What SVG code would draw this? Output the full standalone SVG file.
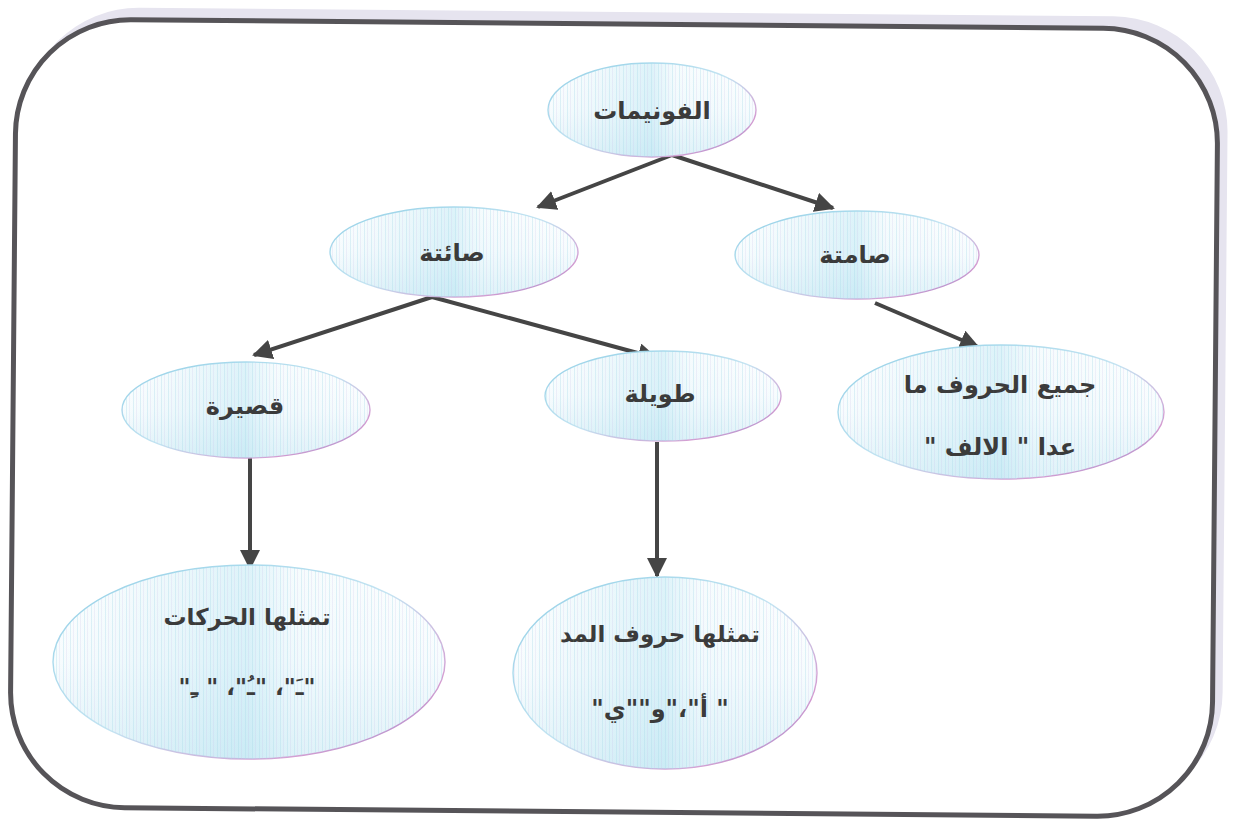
<svg xmlns="http://www.w3.org/2000/svg" width="1239" height="826" viewBox="0 0 1239 826">
<defs>
<linearGradient id="fillV" x1="0" y1="0" x2="0" y2="1">
<stop offset="0" stop-color="#ffffff"/>
<stop offset="0.5" stop-color="#f7fcfe"/>
<stop offset="1" stop-color="#e2f3f9"/>
</linearGradient>
<linearGradient id="fillH" x1="0" y1="0" x2="1" y2="0">
<stop offset="0" stop-color="#bfe6f2" stop-opacity="0"/>
<stop offset="0.5" stop-color="#9fdcee" stop-opacity="0.35"/>
<stop offset="0.62" stop-color="#c7ebf5" stop-opacity="0.15"/>
<stop offset="1" stop-color="#bfe6f2" stop-opacity="0"/>
</linearGradient>
<pattern id="stripes" width="7" height="10" patternUnits="userSpaceOnUse">
<rect x="0" y="0" width="1" height="10" fill="#a9d8e8" opacity="0.35"/>
<rect x="3" y="0" width="1" height="10" fill="#c8c0e6" opacity="0.22"/>
</pattern>
<linearGradient id="strokeG" x1="0" y1="0" x2="1" y2="1">
<stop offset="0" stop-color="#8fcfe6"/>
<stop offset="0.5" stop-color="#c4e4f2"/>
<stop offset="0.8" stop-color="#d59ad0"/>
<stop offset="1" stop-color="#8a86c8"/>
</linearGradient>
<marker id="ah" viewBox="0 0 10 10" refX="9" refY="5" markerWidth="5" markerHeight="5" orient="auto" markerUnits="strokeWidth">
<path d="M0,0 L10,5 L0,10 z" fill="#454545"/>
</marker>
</defs>
<style>
.node ellipse.b{fill:url(#fillV);stroke:url(#strokeG);stroke-width:1.4}
.node ellipse.h{fill:url(#fillH);stroke:none}
.node ellipse.s{fill:url(#stripes);stroke:none}
.t{font-family:"DejaVu Sans","Noto Sans",sans-serif;font-weight:bold;fill:#3b3b3b;text-anchor:middle;direction:rtl}
.c line{stroke:#454545;stroke-width:4;marker-end:url(#ah)}
</style>
<rect width="1239" height="826" fill="#ffffff"/>
<g transform="rotate(0.5 614 418)">
<rect x="21" y="12" width="1204" height="790" rx="115" fill="#e6e4ef"/>
<rect x="13" y="24" width="1202" height="788" rx="115" fill="#ffffff" stroke="#565458" stroke-width="5"/>
</g>

<g class="c">
<line x1="672" y1="155" x2="538" y2="207"/>
<line x1="672" y1="155" x2="833" y2="208"/>
<line x1="432" y1="297" x2="254" y2="355"/>
<line x1="432" y1="297" x2="656" y2="358"/>
<line x1="875" y1="303" x2="978" y2="347"/>
<line x1="250" y1="457" x2="250" y2="568"/>
<line x1="657" y1="442" x2="657" y2="576"/>
</g>

<g id="n-phonemes" class="node">
<ellipse class="b" cx="652" cy="110" rx="104" ry="47"/>
<ellipse class="h" cx="652" cy="110" rx="104" ry="47"/>
<ellipse class="s" cx="652" cy="110" rx="104" ry="47"/>
<text class="t" x="652" y="119" font-size="24">الفونيمات</text>
</g>

<g id="n-vowel" class="node">
<ellipse class="b" cx="454" cy="252" rx="124" ry="45"/>
<ellipse class="h" cx="454" cy="252" rx="124" ry="45"/>
<ellipse class="s" cx="454" cy="252" rx="124" ry="45"/>
<text class="t" x="452" y="261" font-size="24">صائتة</text>
</g>

<g id="n-consonant" class="node">
<ellipse class="b" cx="857" cy="255" rx="122" ry="44"/>
<ellipse class="h" cx="857" cy="255" rx="122" ry="44"/>
<ellipse class="s" cx="857" cy="255" rx="122" ry="44"/>
<text class="t" x="855" y="263" font-size="24">صامتة</text>
</g>

<g id="n-short" class="node">
<ellipse class="b" cx="246" cy="410" rx="124" ry="48"/>
<ellipse class="h" cx="246" cy="410" rx="124" ry="48"/>
<ellipse class="s" cx="246" cy="410" rx="124" ry="48"/>
<text class="t" x="245" y="414" font-size="24">قصيرة</text>
</g>

<g id="n-long" class="node">
<ellipse class="b" cx="663" cy="396" rx="118" ry="45"/>
<ellipse class="h" cx="663" cy="396" rx="118" ry="45"/>
<ellipse class="s" cx="663" cy="396" rx="118" ry="45"/>
<text class="t" x="660" y="402" font-size="24">طويلة</text>
</g>

<g id="n-all" class="node">
<ellipse class="b" cx="1001" cy="412" rx="163" ry="67"/>
<ellipse class="h" cx="1001" cy="412" rx="163" ry="67"/>
<ellipse class="s" cx="1001" cy="412" rx="163" ry="67"/>
<text class="t" x="1000" y="393" font-size="24">جميع الحروف ما</text>
<text class="t" x="1000" y="455" font-size="24">عدا " الالف "</text>
</g>

<g id="n-harakat" class="node">
<ellipse class="b" cx="249" cy="662" rx="196" ry="97"/>
<ellipse class="h" cx="249" cy="662" rx="196" ry="97"/>
<ellipse class="s" cx="249" cy="662" rx="196" ry="97"/>
<text class="t" x="247" y="625" font-size="23">تمثلها الحركات</text>
<text class="t" x="247" y="695" font-size="23">"ـَ"، "ـُ"، " ـِ"</text>
</g>

<g id="n-madd" class="node">
<ellipse class="b" cx="665" cy="673" rx="152" ry="96"/>
<ellipse class="h" cx="665" cy="673" rx="152" ry="96"/>
<ellipse class="s" cx="665" cy="673" rx="152" ry="96"/>
<text class="t" x="660" y="642" font-size="23">تمثلها حروف المد</text>
<text class="t" x="660" y="717" font-size="24">" أ"،"و""ي"</text>
</g>
</svg>
